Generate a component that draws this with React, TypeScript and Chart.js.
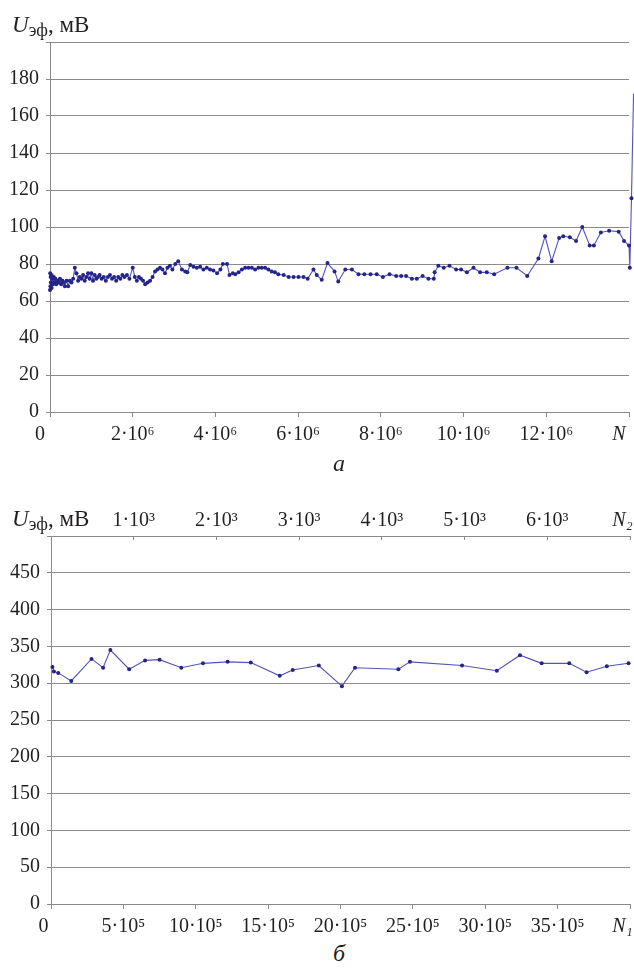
import React, { useEffect, useRef } from 'react';
import { Chart, registerables } from 'chart.js';

Chart.register(...registerables);

const FONT = '"Liberation Serif", "Times New Roman", "DejaVu Serif", serif';
const INK = '#231f20';
const GRID = '#8a8a8a';
const LINE = 'rgb(84,84,184)';
const DOT = 'rgb(36,36,138)';

// ---- Chart а : N in units of 10^6 cycles, U in mV ----
const topN = [
  0, 0.005, 0.01, 0.015, 0.02, 0.03, 0.04, 0.05, 0.07, 0.09,
  0.11, 0.13, 0.15, 0.18, 0.21, 0.24, 0.27, 0.30, 0.33, 0.36,
  0.40, 0.44, 0.48, 0.52, 0.56, 0.60, 0.64, 0.68, 0.72, 0.76,
  0.80, 0.84, 0.88, 0.92, 0.96, 1.00, 1.04, 1.08, 1.12, 1.16,
  1.20, 1.25, 1.30, 1.35, 1.40, 1.45, 1.50, 1.55, 1.60, 1.65,
  1.70, 1.75, 1.80, 1.86, 1.92, 2.00, 2.05, 2.10, 2.15, 2.20,
  2.25, 2.30, 2.36, 2.42, 2.48, 2.54, 2.60, 2.66, 2.72, 2.78,
  2.84, 2.90, 2.96, 3.03, 3.10, 3.19, 3.27, 3.32, 3.39, 3.47,
  3.55, 3.63, 3.71, 3.79, 3.87, 3.95, 4.04, 4.12, 4.18, 4.28,
  4.34, 4.42, 4.48, 4.56, 4.64, 4.72, 4.80, 4.88, 4.96, 5.04,
  5.12, 5.20, 5.28, 5.36, 5.44, 5.52, 5.65, 5.77, 5.89, 6.01,
  6.13, 6.23, 6.37, 6.45, 6.57, 6.71, 6.88, 6.97, 7.14, 7.30,
  7.46, 7.60, 7.75, 7.90, 8.05, 8.21, 8.37, 8.49, 8.61, 8.75,
  8.87, 9.01, 9.15, 9.28, 9.30, 9.39, 9.52, 9.66, 9.82, 9.94,
  10.08, 10.24, 10.40, 10.56, 10.74, 11.06, 11.28, 11.54, 11.81, 11.97,
  12.13, 12.31, 12.41, 12.57, 12.72, 12.87, 13.05, 13.15, 13.32, 13.52,
  13.75, 13.88, 14.00, 14.02, 14.06, 14.11,
];
const topU = [
  66, 75, 68, 73, 70, 74, 67, 72, 69, 73,
  70, 72, 69, 71, 70, 72, 69, 71, 70, 68,
  71, 68, 71, 70, 72, 78, 75, 71, 73, 72,
  74, 71, 73, 75, 72, 75, 71, 74, 72, 73,
  74, 72, 73, 71, 73, 74, 72, 73, 71, 73,
  72, 74, 73, 74, 72, 78, 73, 71, 73, 72,
  71, 69, 70, 71, 73, 76, 77, 78, 77, 75,
  78, 79, 77, 80, 81.5, 77, 76, 75.5, 79.5, 78.5,
  78, 78.5, 77, 78, 77, 76.5, 75, 77, 80, 80,
  74, 75, 74.5, 75.5, 77, 78, 78, 78, 77, 78,
  78, 78, 77, 76, 75.5, 74.5, 74, 73, 73, 73,
  73, 72, 77, 74, 71.5, 80.5, 76, 70.5, 77, 77,
  74.5, 74.5, 74.5, 74.5, 73, 74.5, 73.5, 73.5, 73.5, 72,
  72, 73.5, 72, 72, 75.5, 79, 78, 79, 77, 77,
  75.5, 78, 75.5, 75.5, 74.5, 78, 78, 73.5, 83, 95,
  81.5, 94, 95, 94.5, 92.5, 100, 90, 90, 97, 98,
  97.5, 92.5, 90, 78, 115.5, 172,
];
const topXTickLabels = ['0', '2·10⁶', '4·10⁶', '6·10⁶', '8·10⁶', '10·10⁶', '12·10⁶', 'N'];
const topYTickLabels = ['0', '20', '40', '60', '80', '100', '120', '140', '160', '180', ''];

// ---- Chart б : N1 in units of 10^5, N2 in units of 10^3, U in mV ----
const botN1 = [
  0.1, 0.2, 0.5, 1.4, 2.8, 3.6, 4.1, 5.4, 6.5, 7.5,
  9.0, 10.5, 12.2, 13.8, 15.8, 16.7, 18.5, 20.1, 21.0, 24.0,
  24.8, 28.4, 30.8, 32.4, 33.9, 35.8, 37.0, 38.4, 39.9,
];
const botU = [
  322, 316, 314, 303, 333, 321, 345, 319, 331, 332,
  321, 327, 329, 328, 310, 318, 324, 296, 321, 319,
  329, 324, 317, 338, 327, 327, 315, 323, 327,
];
const botXTickLabels = ['0', '5·10⁵', '10·10⁵', '15·10⁵', '20·10⁵', '25·10⁵', '30·10⁵', '35·10⁵', 'N₁'];
const botX2TickLabels = ['', '1·10³', '2·10³', '3·10³', '4·10³', '5·10³', '6·10³', 'N₂'];
const botYTickLabels = ['0', '50', '100', '150', '200', '250', '300', '350', '400', '450', ''];

// trailing spaces nudge the first and last x labels left of their tick, as in the source figure
const nudge = (labels: string[], i: number, firstPad: string, lastPad: string) => {
  if (i === 0 && labels[i]) return labels[i] + firstPad;
  if (i === labels.length - 1) return labels[i] + lastPad;
  return labels[i];
};

const tickFont = (last: number) => (ctx: any) => ({
  family: FONT,
  size: 20,
  style: ctx.index === last ? 'italic' : 'normal',
});

function lineDataset(xs: number[], ys: number[]) {
  return {
    data: xs.map((x, i) => ({ x, y: ys[i] })),
    showLine: true,
    borderColor: LINE,
    borderWidth: 1.1,
    pointRadius: 2,
    pointBackgroundColor: DOT,
    pointBorderColor: DOT,
    pointBorderWidth: 0,
    clip: false as any,
  };
}

function yAxis(max: number, step: number, labels: string[], width: number) {
  return {
    type: 'linear',
    min: 0,
    max,
    ticks: {
      stepSize: step,
      padding: 7,
      color: INK,
      font: { family: FONT, size: 20 },
      callback: (_v: any, i: number) => labels[i],
    },
    grid: { color: GRID, lineWidth: 1, tickLength: 4 },
    border: { color: GRID, width: 1 },
    afterFit: (s: any) => {
      s.width = width;
      s.paddingTop = 0;
      s.paddingBottom = 0;
    },
  };
}

function xAxis(opts: {
  position: 'top' | 'bottom';
  max: number;
  step: number;
  labels: string[];
  height: number;
  tickLength: number;
  padding: number;
  firstPad: string;
  lastPad: string;
}) {
  const last = opts.labels.length - 1;
  return {
    type: 'linear',
    position: opts.position,
    // range fixed after the data limits, so points just past the end are still drawn
    afterDataLimits: (s: any) => {
      s.min = 0;
      s.max = opts.max;
    },
    ticks: {
      stepSize: opts.step,
      autoSkip: false,
      maxRotation: 0,
      padding: opts.padding,
      color: INK,
      font: tickFont(last),
      callback: (_v: any, i: number) => nudge(opts.labels, i, opts.firstPad, opts.lastPad),
    },
    grid: { drawOnChartArea: false, color: GRID, tickLength: opts.tickLength },
    border: { color: GRID, width: 1 },
    afterFit: (s: any) => {
      s.height = opts.height;
      s.paddingLeft = 0;
      s.paddingRight = 0;
    },
  };
}

function ChartCanvas({ config, top, height }: { config: any; top: number; height: number }) {
  const ref = useRef<HTMLCanvasElement>(null);
  useEffect(() => {
    if (!ref.current) return;
    const chart = new Chart(ref.current, config);
    return () => chart.destroy();
  }, []);
  return (
    <canvas
      ref={ref}
      width={634}
      height={height}
      style={{ position: 'absolute', left: 0, top, width: 634, height }}
    />
  );
}

const topConfig = {
  type: 'scatter',
  data: { datasets: [lineDataset(topN, topU)] },
  options: {
    animation: false,
    responsive: false,
    maintainAspectRatio: false,
    layout: { padding: { top: 42, right: 5, left: 0, bottom: 0 } },
    plugins: { legend: { display: false }, tooltip: { enabled: false } },
    scales: {
      x: xAxis({
        position: 'bottom', max: 14, step: 2, labels: topXTickLabels,
        height: 48, tickLength: 5, padding: 6, firstPad: '    ', lastPad: '    ',
      }),
      y: yAxis(200, 20, topYTickLabels, 50),
    },
  },
};

const botConfig = {
  type: 'scatter',
  data: { datasets: [{ ...lineDataset(botN1, botU), xAxisID: 'x' }] },
  options: {
    animation: false,
    responsive: false,
    maintainAspectRatio: false,
    layout: { padding: { top: 0, right: 4, left: 0, bottom: 0 } },
    plugins: { legend: { display: false }, tooltip: { enabled: false } },
    scales: {
      x: xAxis({
        position: 'bottom', max: 40, step: 5, labels: botXTickLabels,
        height: 36, tickLength: 5, padding: 6, firstPad: '   ', lastPad: '   ',
      }),
      x2: xAxis({
        position: 'top', max: 7, step: 1, labels: botX2TickLabels,
        height: 46, tickLength: -4, padding: 7, firstPad: '', lastPad: '   ',
      }),
      y: yAxis(500, 50, botYTickLabels, 51),
    },
  },
};

function AxisTitle({ top }: { top: number }) {
  return (
    <div
      style={{
        position: 'absolute',
        left: 12,
        top,
        fontFamily: FONT,
        fontSize: 23,
        lineHeight: '23px',
        color: INK,
        whiteSpace: 'nowrap',
      }}
    >
      <span style={{ fontStyle: 'italic' }}>U</span>
      <span style={{ fontSize: 18, position: 'relative', top: 4 }}>эф</span>
      <span>, мВ</span>
    </div>
  );
}

function Caption({ text, top }: { text: string; top: number }) {
  return (
    <div
      style={{
        position: 'absolute',
        left: 0,
        width: 678,
        top,
        textAlign: 'center',
        fontFamily: FONT,
        fontSize: 24,
        lineHeight: '24px',
        fontStyle: 'italic',
        color: INK,
      }}
    >
      {text}
    </div>
  );
}

export default function App() {
  return (
    <div style={{ position: 'absolute', left: 0, top: 0, width: 634, height: 977, background: '#fff', overflow: 'hidden' }}>
      <ChartCanvas config={topConfig} top={0} height={460} />
      <ChartCanvas config={botConfig} top={490} height={450} />
      <AxisTitle top={13} />
      <AxisTitle top={507} />
      <Caption text="а" top={451} />
      <Caption text="б" top={941} />
    </div>
  );
}
